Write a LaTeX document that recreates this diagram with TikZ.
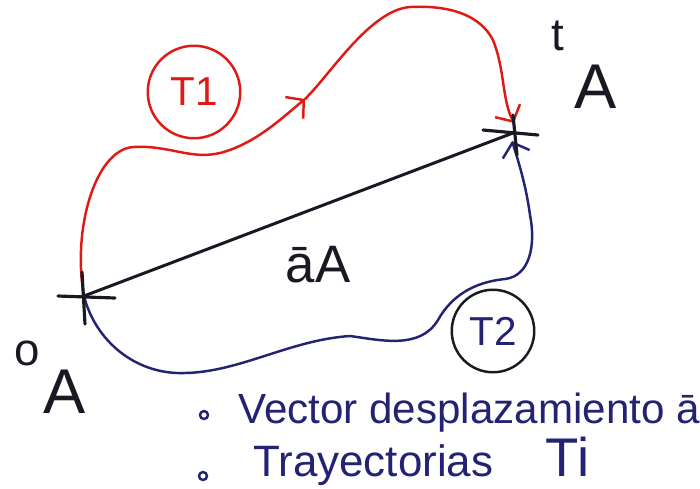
\documentclass[tikz,border=0pt]{standalone}
\usepackage{fontspec}
\setmainfont{Liberation Sans}
\usetikzlibrary{arrows.meta}

\definecolor{penred}{RGB}{225,25,20}
\definecolor{penblue}{RGB}{35,35,115}
\definecolor{penblack}{RGB}{25,25,35}

\begin{document}
\begin{tikzpicture}[
    x=0.02cm, y=-0.02cm,
    pen/.style={line width=1.4pt, line cap=round, line join=round},
    trajA/.style={pen, penred},
    trajB/.style={pen, penblue},
    disp/.style={pen, penblack, line width=1.7pt},
    crossbar/.style={pen, penblack, line width=1.8pt},
    tag/.style={circle, draw, pen, inner sep=0pt, font=\fontsize{23}{25}\selectfont},
    place/.style={anchor=base west, text=penblack, font=\fontsize{36}{40}\selectfont},
    bul/.style={circle, draw, pen, penblue, inner sep=0pt, minimum size=0.16cm},
    note/.style={anchor=base west, text=penblue},
    barb/.style={-{Straight Barb[length=7pt,width=16pt]}}
]
\useasboundingbox (0,0) rectangle (700,488);

\coordinate (o) at (84,296);
\coordinate (t) at (513,133);
\coordinate (m) at (305,99);
\coordinate (tr) at (514,123);
\coordinate (tb) at (512,141);

% trajectory T1
\draw[trajA, barb] (o) .. controls (72,230) and (95,150) .. (133,147)
    .. controls (170,145) and (190,160) .. (220,153)
    .. controls (255,144) and (282,118) .. (m);
\draw[trajA, barb] (m) .. controls (330,75) and (370,10) .. (410,7)
    .. controls (450,5) and (480,15) .. (493,40)
    .. controls (505,70) and (502,100) .. (tr);

% trajectory T2
\draw[trajB, barb] (o) .. controls (95,340) and (135,375) .. (185,373)
    .. controls (240,372) and (290,340) .. (350,336)
    .. controls (380,340) and (420,350) .. (438,320)
    .. controls (452,295) and (475,282) .. (505,279)
    .. controls (530,276) and (536,245) .. (530,215)
    .. controls (526,185) and (518,160) .. (tb);

% displacement vector
\draw[disp] (o) -- (t);

\draw[crossbar] (o) ++(-26,0) -- ++(57,2);
\draw[crossbar] (o) ++(-2,-24) -- ++(3,52);
\draw[crossbar] (t) ++(-30,-3) -- ++(55,5);
\draw[crossbar] (t) ++(0,-18) -- ++(4,40);

\node[tag, penred, minimum size=1.85cm] (t1) at (194,92) {T1};
\node[tag, penblack, minimum size=1.65cm] (t2) at (493,331) {\textcolor{penblue}{T2}};

\node[place] (a0) at (8,413) {\raisebox{27pt}{\fontsize{26}{28}\selectfont o}\hspace{2pt}A};
\node[place] (at) at (545,108) {\raisebox{33pt}{\fontsize{26}{28}\selectfont t}\hspace{6pt}A};
\node[text=penblack, font=\fontsize{30}{32}\selectfont] (aA) at (318,265) {\={a}A};

\node[bul] (b1) at (204,415) {};
\node[note, font=\fontsize{24}{26}\selectfont] (l1) at (232,423) {Vector desplazamiento \={a}};
\node[bul] (b2) at (203,476) {};
\node[note, font=\fontsize{25}{27}\selectfont] (l2) at (247,476)
    {Trayectorias\hspace*{30pt}{\fontsize{31}{33}\selectfont Ti}};
\end{tikzpicture}
\end{document}
